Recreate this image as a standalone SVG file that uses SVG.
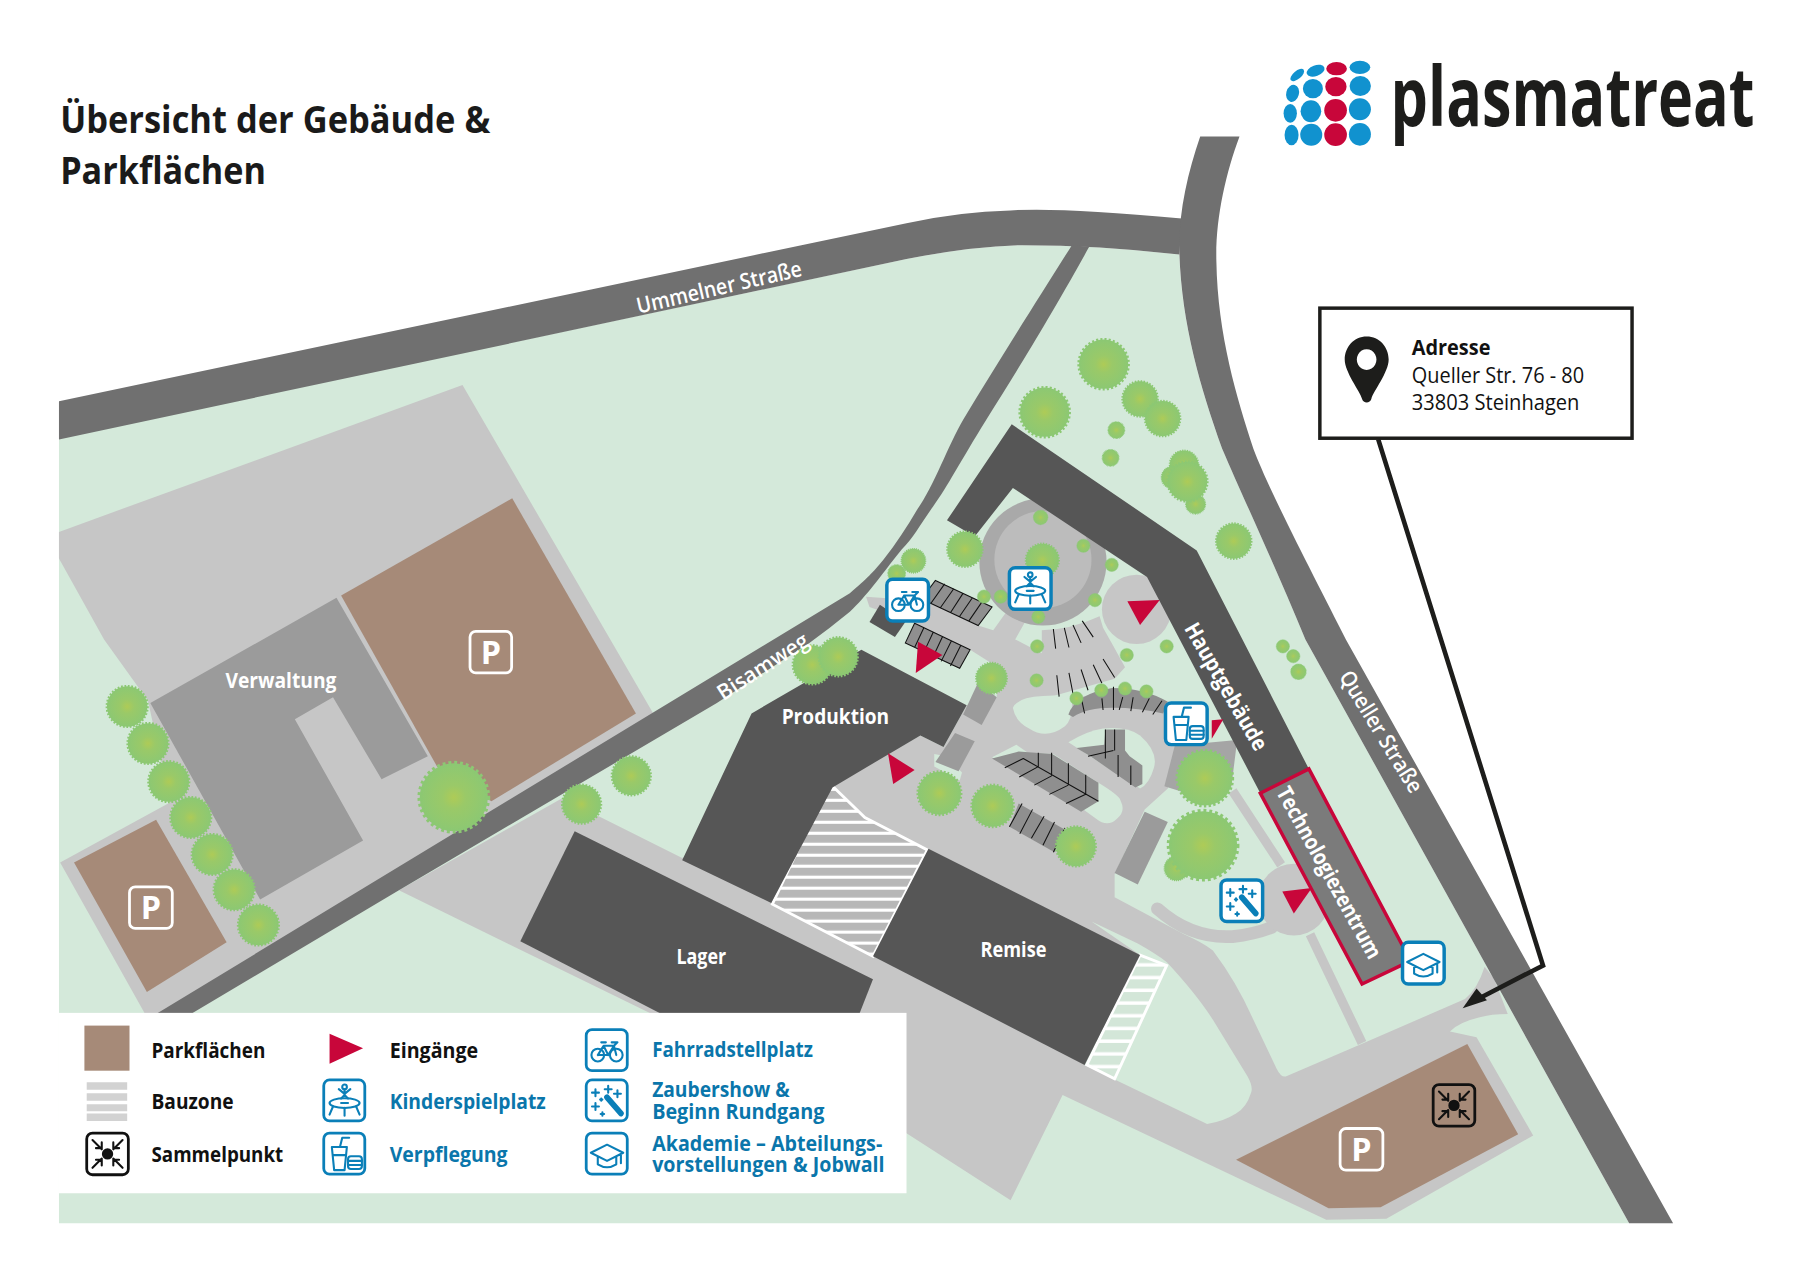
<svg xmlns="http://www.w3.org/2000/svg" width="1813" height="1280" viewBox="0 0 1813 1280">
<style>
text{font-family:"Open Sans","Noto Sans","Liberation Sans",sans-serif}
.g{fill:#d4e9da}.lg{fill:#c6c6c6}.rd{fill:#707070}.dk{fill:#565656}.mg{fill:#9b9b9b}.br{fill:#a68a78}.red{fill:#c8063a}
.bay{fill:#8f8f8f}.bk{fill:none;stroke:#111;stroke-width:.9}
.bl{fill:#1192cf}.lbl{fill:#fff;font-weight:700;font-size:19px}.rlbl{fill:#fff;font-weight:600;font-size:19px}
.tk{fill:#111;font-weight:700;font-size:19px}.tb{fill:#0a76ab;font-weight:700;font-size:19px}
.ttl{fill:#1a1a1a;font-weight:700;font-size:33px}
.ic{fill:none;stroke:#0a7fb8;stroke-width:1.8;stroke-linecap:round;stroke-linejoin:round}
.box{fill:#fff;stroke:#0a7fb8;stroke-width:3}.lbox{fill:#fff;stroke:#0a7fb8;stroke-width:2.4}
.psign{fill:none;stroke:#fff;stroke-width:2.4}
.ptx{fill:#fff;font-weight:700;font-size:28px;text-anchor:middle}
</style>
<defs>
<radialGradient id="tg"><stop offset="0" stop-color="#aecb57"/><stop offset=".35" stop-color="#9ac968"/><stop offset="1" stop-color="#8cc873"/></radialGradient>
<g id="tree"><circle r="19" fill="url(#tg)"/><circle r="19" fill="none" stroke="#8cc873" stroke-width="2.6" stroke-dasharray="1.6 1.6"/></g>
<pattern id="st1" patternUnits="userSpaceOnUse" width="10" height="9.500"><rect width="10" height="9.500" fill="#fff"/><rect width="10" height="6.800" fill="#b7b7b7"/></pattern>
<pattern id="st2" patternUnits="userSpaceOnUse" width="10" height="11"><rect width="10" height="11" fill="#fff"/><rect width="10" height="8" fill="#d3e6d8"/></pattern>
<g id="i-bike" class="ic"><circle cx="11" cy="23" r="5.5"/><circle cx="27" cy="23" r="5.5"/><path d="M11 23L16 15H25L27 23M16 15L20 23H11M25 15L20 23M14 12H18M23 12H28L25 15"/></g>
<g id="i-kid" class="ic"><circle cx="19" cy="7" r="2"/><path d="M19 9V14M14 9L19 13L24 9M16 17L19 14L22 17"/><ellipse cx="19" cy="21" rx="13" ry="4.2"/><path d="M16 21H22M9 24L6 31M29 24L32 31M19 25V32"/></g>
<g id="i-food" class="ic"><path d="M8 13L10 33H19L21 13ZM9 20H20M15 13L17 5H23"/><rect x="22" y="21" width="12" height="11" rx="2.5"/><path d="M22 25H34M22 28.500H34"/></g>
<g id="i-wand" class="ic"><path d="M19 16L31 30" stroke-width="5"/><path d="M9 9V15M6 12H12M20 6V12M17 9H23M28 10V16M25 13H31M9 21V27M6 24H12M15 29V32M13.500 30.500H16.500M14 17V19M13 18H15"/></g>
<g id="i-grad" class="ic"><path d="M19 11L33 18L19 25L5 18ZM11 21V28Q19 33 27 28V21M31 19V27"/></g>
<g id="i-sam" fill="none" stroke="#111" stroke-width="1.8" stroke-linecap="round"><circle cx="19" cy="19" r="4" fill="#111"/><path d="M6 7L14 15M9 14H14V9M32 7L24 15M29 14H24V9M6 31L14 23M9 24H14V29M32 31L24 23M29 24H24V29"/></g>
</defs>
<rect width="1813" height="1280" fill="#fff"/>
<g id="map" transform="scale(1.15625)">
<path id="ground" class="g" d="M51,379L784,224Q840,213 884,212Q950,212 1020,220C1022,280 1038,335 1057,388C1075,430 1103,490 1129,553L1409,1058H51Z"/>
<path id="west-yard" class="lg" d="M51,460L400,333L565,617L600,600L140,880L125,876L52,746L147,694L128,606L90,553L51,483Z"/>
<path id="network" class="lg" d="M749,516L804,520L846,541L859,545L872,527L891,530L878,553L901,565L901,545Q925,545 951,533L954,543L963,559L973,577L964,587L911,602L922,606L962,596L1010,607L1018,650L1010,682L990,700L964,756L964,776L1024,808Q1040,815 1049,822Q1070,850 1084,882L1104,924Q1108,932 1112,931L1182,901L1267,864Q1278,855 1284,836L1292,846L1304,877Q1290,877 1279,880Q1262,884 1254,892L1277,897L1326,982L1199,1054L1147,1055L919,947L874,1038L784,980L570,880L345,770L485,691L520,707L590,742L700,690L796,636L816,646L836,610L862,603L863,577L839,562L791,539L752,525Z"/>
<circle cx="983" cy="527" r="30" class="lg"/>
<path id="hole-a" class="g" d="M876,612Q880,603 902,602Q922,600 927,606Q928,622 921,628Q905,640 890,630Q878,624 876,612Z"/>
<path id="hole-b" class="g" d="M924,642Q940,632 954,630Q975,628 986,636Q1002,650 998,664Q994,678 986,682Z"/>
<path id="hole-c" class="g" d="M858,655L879,644L889,651L911,652L950,677Q968,688 969,692Q974,702 966,708Q958,716 948,708L937,700Z"/>
<path id="hole-g" class="g" d="M944,797L984,816Q1000,825 1009,832Q1035,860 1049,882L1079,931Q1084,940 1082,945Q1078,958 1069,963Q1058,970 1044,972L938,921L986,826Z"/>
<path class="g" d="M808,652L808,663L830,675L832,668L818,654Z"/>
<g id="paths" fill="none" stroke="#c6c6c6">
<path d="M1001,786Q1030,812 1066,810Q1085,808 1100,802" stroke-width="11" stroke-linecap="round"/>
<path d="M1133,808L1178,902M1066,684L1108,748" stroke-width="8"/>
</g>
<circle cx="1119" cy="778" r="31" class="lg"/>
<circle cx="902" cy="486" r="55" fill="#a9a9a9"/><circle cx="902" cy="484" r="42" fill="#bcbcbc"/>
<path id="ummelner" class="rd" d="M51,347L784,193Q830,183 874,182Q915,179 1022,189L1020,220Q950,212 884,212Q840,213 784,224L51,380Z"/>
<path id="bisamweg" class="rd" d="M927,212L942,213.500C905,280 880,320 853,363C830,400 820,420 807,438C795,455 790,465 780,475C760,500 750,515 735,529Q718,543 700,556L620,608L345,770L160,880L130,880L735,513C750,500 755,495 764,484C775,470 785,455 793,441C808,420 820,385 833,363C865,310 900,255 927,212Z"/>
<path id="queller" class="rd" d="M1038,118H1072C1060,150 1051,190 1052,226C1053,290 1070,345 1084,388C1100,430 1140,505 1164,553L1447,1058H1409L1129,553C1103,490 1075,430 1057,388C1038,335 1022,280 1020,219C1019,185 1027,150 1038,118Z"/>
<path class="br" d="M443,431L295,515L378,663L425,693L550,617Z"/>
<path class="br" d="M135,709L64,746L127,858L196,815Z"/>
<path class="br" d="M1269,903L1069,1003L1149,1045L1194,1044L1313,981Z"/>
<path id="stripes1" fill="url(#st1)" stroke="#fff" stroke-width="2.500" d="M717,677L748,707L802,735L755,827L668,782Z"/>
<path id="stripes2" fill="url(#st2)" stroke="#fff" stroke-width="2.500" d="M986,826L1009,835L964,933L940,921Z"/>
<g id="verwaltung"><path class="mg" d="M130,608L291,517L370,654L330,674L288,603L255,622L314,727L225,778Z"/><text class="lbl" x="195" y="595" textLength="96" lengthAdjust="spacingAndGlyphs">Verwaltung</text></g>
<path class="mg" d="M846,590L862,603L849,627L833,618Z"/>
<path class="mg" d="M826,634L843,641L829,667L809,659Z"/>
<path class="mg" d="M990,702L1010,711L984,765L964,755Z"/>
<path fill="#a5a5a5" d="M1016,645L1070,640L1065,680L1023,685L1007,680Z"/>
<path d="M761,523L783,538L774,551L752,538Z" class="dk"/>
<g id="produktion"><path class="dk" d="M745,562L650,617L590,744L667,781L720,681L796,636L816,646L836,610Z"/><text class="lbl" x="676" y="626" textLength="93" lengthAdjust="spacingAndGlyphs">Produktion</text></g>
<g id="lager"><path class="dk" d="M497,719L755,847L742,880L578,880L450,814Z"/><text class="lbl" x="585" y="834" textLength="43" lengthAdjust="spacingAndGlyphs">Lager</text></g>
<g id="remise"><path class="dk" d="M803,734L986,826L938,921L755,827Z"/><text class="lbl" x="848" y="828" textLength="57" lengthAdjust="spacingAndGlyphs">Remise</text></g>
<g id="hauptgebaeude"><path class="dk" d="M875,367L1035,476L1132,665L1090,686L992,499L876,422L843,464L819,450Z"/><text class="lbl" transform="translate(1060,594) rotate(60)" y="6" text-anchor="middle" textLength="124" lengthAdjust="spacingAndGlyphs">Hauptgebäude</text></g>
<g id="technologiezentrum"><path fill="#7b7b7b" stroke="#c8063a" stroke-width="3" d="M1132,665L1220,831L1178,851L1090,686Z"/><text class="lbl" transform="translate(1149,755) rotate(61)" y="6" text-anchor="middle" textLength="167" lengthAdjust="spacingAndGlyphs">Technologiezentrum</text></g>
<g id="parking-bays">
<path class="bay" d="M809,502L858,525L846,541L797,518Z"/><path class="bk" d="M809,502L858,525L846,541L797,518ZM817,505L805,522M825,509L813,526M833,513L822,530M841,517L830,533M849,521L838,537"/>
<path class="bay" d="M791,539L839,562L830,578L783,556Z"/><path class="bk" d="M791,539L839,562L830,578L783,556ZM799,543L791,560M807,547L799,564M815,551L807,568M823,554L814,572M831,558L822,576"/>
<path class="bay" d="M881,695L922,718L912,737L873,715Z"/><path class="bk" d="M884,695L873,715M893,700L882,721M903,706L892,725M912,711L902,731M921,716L911,737"/>
<path class="bay" d="M858,656L881,650L910,652L950,677V693L935,702Z"/><path class="bk" d="M885,656L950,693M869,664L885,656M881.500,672L898,663M894.500,679L909.500,671M907.500,687L924,679M922,695L939,687M898,651V663M909.500,651V671M924,660V679M939,670V687"/>
<path class="bay" d="M931,647L955,644L956,631H973V649L977,654L988,662V678L982,681L943,654Z"/><path class="bk" d="M956,631V656M964,631V649M967,653V672M978,662V679M941,654L963,649"/>
<path class="bay" d="M924,618Q930,600 962,595Q990,595 1010,607L1006,617Q985,612 962,612Q940,612 928,620Z"/><path class="bk" d="M935,603L938,617M953,604L954,614M963,594V614M971,603L968,614M980,603L978,615M994,604L988,616M1005,606L997,618"/>
<path class="bk" d="M911,544L913,561M920.500,543L924.500,560M928,540.500L935,556M936,537L945.500,551M914,584L916,602.500M924.500,582L928,600M935,579L941,597M945.500,575L953,591M954,570L964,586"/>
</g>
<g id="trees">
<use href="#tree" transform="translate(110,611) scale(.92)"/><use href="#tree" transform="translate(128,643) scale(.92)"/><use href="#tree" transform="translate(146,676) scale(.92)"/><use href="#tree" transform="translate(165,707) scale(.92)"/><use href="#tree" transform="translate(183.500,739) scale(.92)"/><use href="#tree" transform="translate(202.500,769.500) scale(.92)"/><use href="#tree" transform="translate(223.500,800) scale(.92)"/>
<use href="#tree" transform="translate(392.500,689.500) scale(1.55)"/><use href="#tree" transform="translate(546,671) scale(.88)"/><use href="#tree" transform="translate(503,695.500) scale(.88)"/><use href="#tree" transform="translate(702.500,575) scale(.88)"/><use href="#tree" transform="translate(725,568) scale(.88)"/>
<use href="#tree" transform="translate(954.500,315) scale(1.12)"/><use href="#tree" transform="translate(903.500,356.500) scale(1.12)"/><use href="#tree" transform="translate(986,345) scale(.8)"/><use href="#tree" transform="translate(1005.500,362) scale(.8)"/><use href="#tree" transform="translate(965.500,372) scale(.38)"/><use href="#tree" transform="translate(960.500,396) scale(.38)"/>
<use href="#tree" transform="translate(1024,402) scale(.65)"/><use href="#tree" transform="translate(1014,413) scale(.5)"/><use href="#tree" transform="translate(1034,436) scale(.45)"/><use href="#tree" transform="translate(1027,416.500) scale(.9)"/><use href="#tree" transform="translate(1067,468) scale(.8)"/>
<use href="#tree" transform="translate(834.500,475) scale(.8)"/><use href="#tree" transform="translate(790,485) scale(.55)"/><use href="#tree" transform="translate(775.500,496) scale(.4)"/>
<use href="#tree" transform="translate(900,447.500) scale(.33)"/><use href="#tree" transform="translate(901.500,484.500) scale(.75)"/><use href="#tree" transform="translate(937,472) scale(.3)"/><use href="#tree" transform="translate(961.500,488.500) scale(.3)"/><use href="#tree" transform="translate(947,519) scale(.3)"/><use href="#tree" transform="translate(898,533.500) scale(.3)"/><use href="#tree" transform="translate(865.500,516) scale(.3)"/><use href="#tree" transform="translate(851,516) scale(.3)"/><use href="#tree" transform="translate(897,559) scale(.3)"/><use href="#tree" transform="translate(1009,559) scale(.3)"/><use href="#tree" transform="translate(974.500,566.500) scale(.3)"/><use href="#tree" transform="translate(857.500,586.500) scale(.7)"/><use href="#tree" transform="translate(896.500,588.500) scale(.3)"/><use href="#tree" transform="translate(931,604) scale(.3)"/><use href="#tree" transform="translate(952.500,597) scale(.3)"/><use href="#tree" transform="translate(973,595.500) scale(.3)"/><use href="#tree" transform="translate(991.500,598) scale(.3)"/>
<use href="#tree" transform="translate(1109.500,559) scale(.3)"/><use href="#tree" transform="translate(1118.500,567.500) scale(.3)"/><use href="#tree" transform="translate(1123,581) scale(.35)"/>
<use href="#tree" transform="translate(812.500,686) scale(.98)"/><use href="#tree" transform="translate(858.500,697) scale(.95)"/><use href="#tree" transform="translate(930.500,732) scale(.9)"/><use href="#tree" transform="translate(1042,673) scale(1.25)"/><use href="#tree" transform="translate(1017.500,751) scale(.55)"/><use href="#tree" transform="translate(1040.500,731) scale(1.55)"/>
</g>
<g id="entrances">
<path class="red" d="M794,555L815,566.500L792,582Z"/><path class="red" d="M975,520L1003,519L986,540.500Z"/><path class="red" d="M768,651.500L791,666L772.500,678Z"/><path class="red" d="M1048,623L1058,622L1048,639Z"/><path class="red" d="M1109,771L1134.500,768L1119,790Z"/>
</g>
<g id="p1"><rect class="psign" x="406.500" y="546" width="36" height="36" rx="5"/><text class="ptx" x="424.500" y="574">P</text></g>
<g id="p2"><rect class="psign" x="112" y="767" width="37" height="36" rx="5"/><text class="ptx" x="130.500" y="795">P</text></g>
<g id="p3"><rect class="psign" x="1159" y="976" width="37" height="36" rx="5"/><text class="ptx" x="1177.500" y="1004">P</text></g>
<g id="sign-bike" transform="translate(766,500)"><rect class="box" x="1" y="1" width="36" height="36" rx="5"/><use href="#i-bike"/></g>
<g id="sign-kid" transform="translate(872,490)"><rect class="box" x="1" y="1" width="36" height="36" rx="5"/><use href="#i-kid"/></g>
<g id="sign-food" transform="translate(1007,607)"><rect class="box" x="1" y="1" width="36" height="36" rx="5"/><use href="#i-food"/></g>
<g id="sign-wand" transform="translate(1055,760)"><rect class="box" x="1" y="1" width="36" height="36" rx="5"/><use href="#i-wand"/></g>
<g id="sign-grad" transform="translate(1212,814)"><rect class="box" x="1" y="1" width="36" height="36" rx="5"/><use href="#i-grad"/></g>
<g id="sign-sam" transform="translate(1238.500,937)"><rect x="1" y="1" width="36" height="36" rx="5" fill="none" stroke="#111" stroke-width="2.400"/><use href="#i-sam"/></g>
<text class="rlbl" transform="translate(622,249) rotate(-13)" y="6" text-anchor="middle" textLength="146" lengthAdjust="spacingAndGlyphs">Ummelner Straße</text>
<text class="rlbl" transform="translate(660,577) rotate(-33)" y="6" text-anchor="middle" textLength="90" lengthAdjust="spacingAndGlyphs">Bisamweg</text>
<text class="rlbl" transform="translate(1194,633) rotate(58.500)" y="6" text-anchor="middle" textLength="120" lengthAdjust="spacingAndGlyphs">Queller Straße</text>
<g id="legend">
<rect x="51" y="876" width="733" height="156" fill="#fff"/>
<rect class="br" x="73" y="887" width="39" height="39"/>
<path fill="#d2d2d2" d="M75 936h35v6.500H75zM75 945.500h35v6.500H75zM75 955h35v6H75zM75 963h35v6.500H75z"/>
<g transform="translate(74,979)"><rect x="1" y="1" width="36" height="36" rx="5" fill="none" stroke="#111" stroke-width="2.400"/><use href="#i-sam"/></g>
<path class="red" d="M285,894L314,906.500L285,920Z"/>
<g transform="translate(279,933)"><rect class="lbox" x="1" y="1" width="35.500" height="35.500" rx="5"/><use href="#i-kid"/></g>
<g transform="translate(279,979)"><rect class="lbox" x="1" y="1" width="35.500" height="35.500" rx="5"/><use href="#i-food"/></g>
<g transform="translate(506,889.500)"><rect class="lbox" x="1" y="1" width="35.500" height="35.500" rx="5"/><use href="#i-bike"/></g>
<g transform="translate(506,933)"><rect class="lbox" x="1" y="1" width="35.500" height="35.500" rx="5"/><use href="#i-wand"/></g>
<g transform="translate(506,979)"><rect class="lbox" x="1" y="1" width="35.500" height="35.500" rx="5"/><use href="#i-grad"/></g>
<text class="tk" x="131" y="915" textLength="98.500" lengthAdjust="spacingAndGlyphs">Parkflächen</text>
<text class="tk" x="131" y="959.500" textLength="71" lengthAdjust="spacingAndGlyphs">Bauzone</text>
<text class="tk" x="131" y="1005" textLength="114" lengthAdjust="spacingAndGlyphs">Sammelpunkt</text>
<text class="tk" x="337" y="915" textLength="76.500" lengthAdjust="spacingAndGlyphs">Eingänge</text>
<text class="tb" x="337" y="959" textLength="135" lengthAdjust="spacingAndGlyphs">Kinderspielplatz</text>
<text class="tb" x="337" y="1005" textLength="102" lengthAdjust="spacingAndGlyphs">Verpflegung</text>
<text class="tb" x="564" y="914.500" textLength="139" lengthAdjust="spacingAndGlyphs">Fahrradstellplatz</text>
<text class="tb" x="564" y="949" textLength="119" lengthAdjust="spacingAndGlyphs">Zaubershow &amp;</text>
<text class="tb" x="564" y="968" textLength="149" lengthAdjust="spacingAndGlyphs">Beginn Rundgang</text>
<text class="tb" x="564" y="995.500" textLength="199" lengthAdjust="spacingAndGlyphs">Akademie – Abteilungs-</text>
<text class="tb" x="564" y="1013.500" textLength="201" lengthAdjust="spacingAndGlyphs">vorstellungen &amp; Jobwall</text>
</g>
<g id="title">
<text class="ttl" x="52" y="115" textLength="372" lengthAdjust="spacingAndGlyphs">Übersicht der Gebäude &amp;</text>
<text class="ttl" x="52" y="159.500" textLength="178" lengthAdjust="spacingAndGlyphs">Parkflächen</text>
</g>
<g id="logo" transform="translate(1098.300,34.600) scale(.2883)">
<g class="bl"><ellipse cx="65" cy="285" rx="21" ry="31"/><ellipse cx="124" cy="284" rx="33" ry="33"/><ellipse cx="270" cy="283" rx="33" ry="34"/><ellipse cx="61" cy="220" rx="20" ry="28"/><ellipse cx="123" cy="214" rx="31" ry="33"/><ellipse cx="270" cy="208" rx="33" ry="33"/><ellipse cx="68" cy="160" rx="19" ry="26" transform="rotate(15 68 160)"/><ellipse cx="129" cy="146" rx="30" ry="29"/><ellipse cx="271" cy="138" rx="32" ry="30"/><ellipse cx="82" cy="105" rx="25" ry="12" transform="rotate(-40 82 105)"/><ellipse cx="137" cy="92" rx="28" ry="16" transform="rotate(-20 137 92)"/><ellipse cx="270" cy="82" rx="31" ry="20"/></g>
<g class="red"><ellipse cx="197" cy="284" rx="34" ry="34"/><ellipse cx="197" cy="211" rx="34" ry="34"/><ellipse cx="198" cy="140" rx="32" ry="29"/><ellipse cx="200" cy="86" rx="31" ry="20"/></g>
<text x="362" y="258" font-size="250" font-weight="700" fill="#1d1d1b" textLength="1092" lengthAdjust="spacingAndGlyphs">plasmatreat</text>
</g>
<g id="address">
<rect x="1141.500" y="266.500" width="270" height="112.500" fill="#fff" stroke="#1d1d1b" stroke-width="3"/>
<path fill="#1d1d1b" fill-rule="evenodd" d="M1182,291C1171,291 1163,300 1163,311C1163,322 1176,338 1178,345C1179,349 1185,349 1186,345C1188,338 1201,322 1201,311C1201,300 1193,291 1182,291ZM1182,302A8.500,9 0 1 1 1181.900,302Z"/>
<text x="1221" y="307" font-size="19" font-weight="700" fill="#111" textLength="68" lengthAdjust="spacingAndGlyphs">Adresse</text>
<text x="1221" y="331" font-size="19" fill="#111" textLength="149" lengthAdjust="spacingAndGlyphs">Queller Str. 76 - 80</text>
<text x="1221" y="354.500" font-size="19" fill="#111" textLength="145" lengthAdjust="spacingAndGlyphs">33803 Steinhagen</text>
</g>
<g id="connectors">
<path d="M1192,380L1334.500,835L1282,862" fill="none" stroke="#1d1d1b" stroke-width="4" stroke-linejoin="miter"/>
<path d="M1265,872L1277,855L1286,865Z" fill="#1d1d1b"/>
</g>
</g>
</svg>
